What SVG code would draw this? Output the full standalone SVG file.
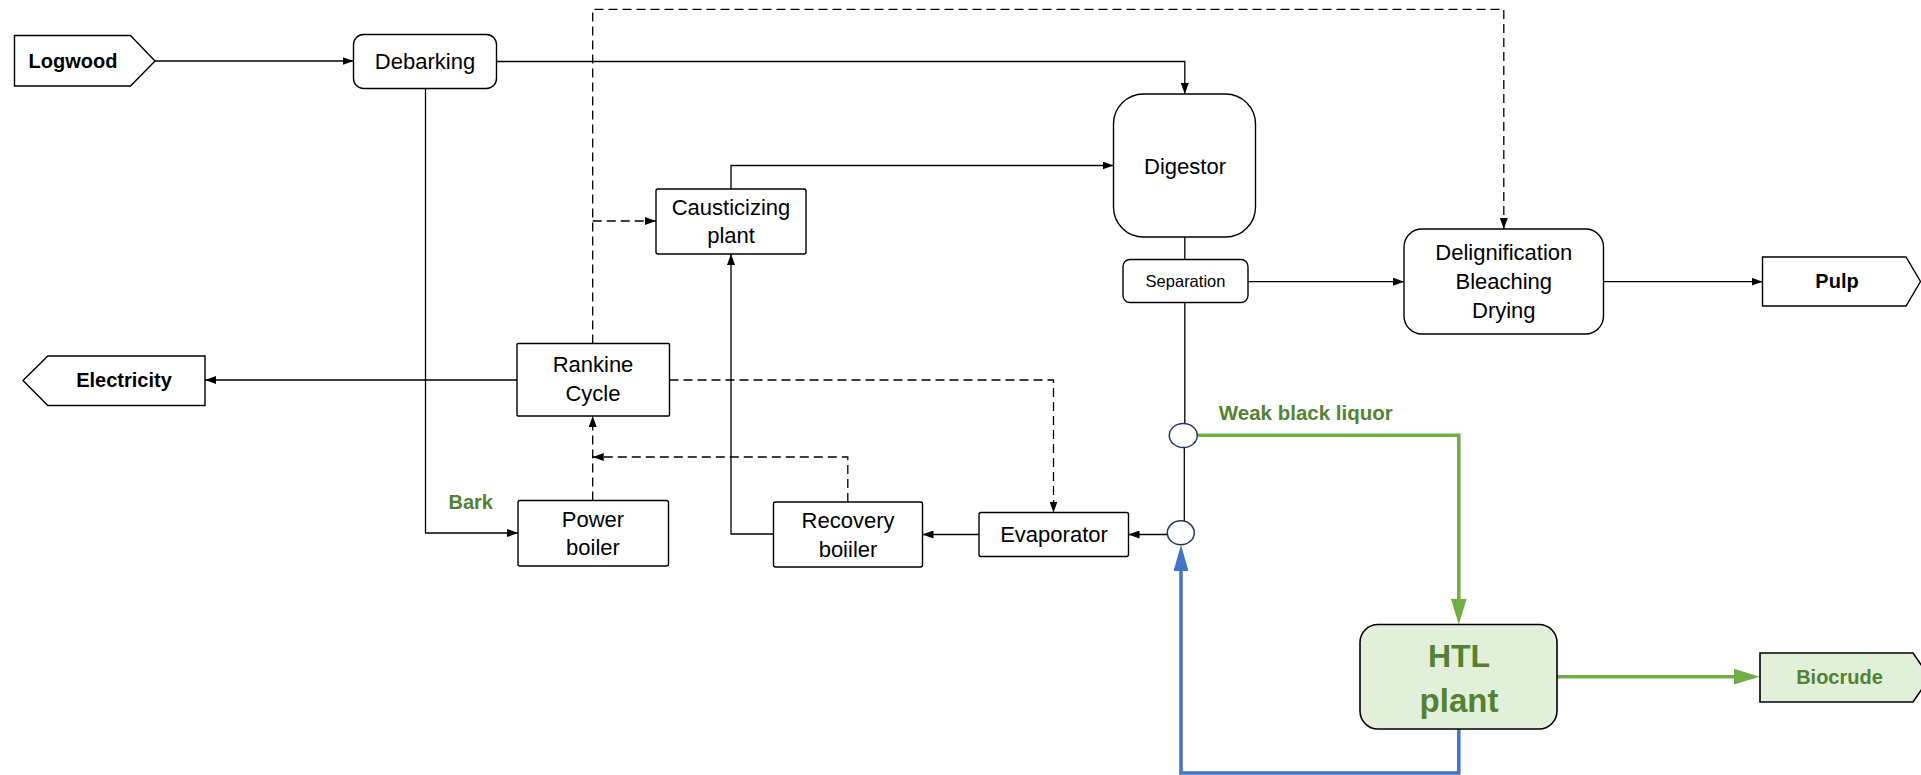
<svg xmlns="http://www.w3.org/2000/svg" width="1921" height="775" viewBox="0 0 1921 775">
<style>
.box{fill:#fff;stroke:#000;stroke-width:1.4}
.gbox{fill:#e2f0d9;stroke:#000;stroke-width:1.6}
.t{font-family:"Liberation Sans",Arial,sans-serif;font-size:22px;fill:#000;text-anchor:middle}
.tb{font-family:"Liberation Sans",Arial,sans-serif;font-size:20px;font-weight:bold;fill:#000;text-anchor:middle}
.tg{font-family:"Liberation Sans",Arial,sans-serif;font-weight:bold;fill:#548235}
.c{fill:none;stroke:#000;stroke-width:1.3}
.d{fill:none;stroke:#000;stroke-width:1.3;stroke-dasharray:9 5}
.g{fill:none;stroke:#70ad47;stroke-width:3.5}
.b{fill:none;stroke:#4472c4;stroke-width:3.5}
.circ{fill:#fff;stroke:#1f3864;stroke-width:1.5}
</style>
<defs>
<marker id="ah" markerWidth="11" markerHeight="8" refX="11" refY="4" orient="auto" markerUnits="userSpaceOnUse"><path d="M0,0 L11,4 L0,8 z" fill="#000"/></marker>
<marker id="ag" markerWidth="26" markerHeight="16" refX="6" refY="8" orient="auto" markerUnits="userSpaceOnUse"><path d="M0,0 L26,8 L0,16 z" fill="#70ad47"/></marker>
<marker id="ab" markerWidth="26" markerHeight="15" refX="6" refY="7.5" orient="auto" markerUnits="userSpaceOnUse"><path d="M0,0 L26,7.5 L0,15 z" fill="#4472c4"/></marker>
</defs>

<g id="connectors">
<path class="c" d="M155,61 H353.5" marker-end="url(#ah)"/>
<path class="c" d="M496.5,61.5 H1184.8 V94" marker-end="url(#ah)"/>
<path class="c" d="M425.5,88.5 V533 H518" marker-end="url(#ah)"/>
<path class="c" d="M731,189 V165.5 H1113.5" marker-end="url(#ah)"/>
<path class="c" d="M773.5,534 H731 V254" marker-end="url(#ah)"/>
<path class="c" d="M979,534.5 H922.5" marker-end="url(#ah)"/>
<path class="c" d="M1167.3,534.5 H1128.5" marker-end="url(#ah)"/>
<path class="c" d="M1184.8,237 V259.5"/>
<path class="c" d="M1184.8,302.5 V423.5"/>
<path class="c" d="M1184.3,447.5 V521"/>
<path class="c" d="M1248,281.7 H1404" marker-end="url(#ah)"/>
<path class="c" d="M1603.5,281.7 H1762.5" marker-end="url(#ah)"/>
<path class="c" d="M517,380 H205" marker-end="url(#ah)"/>
<path class="d" d="M592.7,343.5 V9.3 H1503.8 V229" marker-end="url(#ah)"/>
<path class="d" d="M592.7,221 H656" marker-end="url(#ah)"/>
<path class="d" d="M669.5,380 H1053.5 V512.5" marker-end="url(#ah)"/>
<path class="d" d="M592.7,500.5 V416" marker-end="url(#ah)"/>
<path class="d" d="M847.8,502 V457 H592.7" marker-end="url(#ah)"/>
<path class="g" d="M1197.3,435.3 H1458.8 V604.5" marker-end="url(#ag)"/>
<path class="g" d="M1557,676.7 H1739.7" marker-end="url(#ag)"/>
<path class="b" d="M1458.8,729 V773 H1181 V565" marker-end="url(#ab)"/>
</g>

<g id="logwood">
<polygon class="box" points="14.5,35.5 130.5,35.5 155,61 130.5,86 14.5,86"/>
<text class="tb" x="73" y="68">Logwood</text>
</g>
<g id="debarking">
<rect class="box" x="353.5" y="34.5" width="143" height="54" rx="10"/>
<text class="t" x="425" y="69">Debarking</text>
</g>
<g id="digestor">
<rect class="box" x="1113.5" y="94" width="142" height="143" rx="30"/>
<text class="t" x="1185" y="174">Digestor</text>
</g>
<g id="separation">
<rect class="box" x="1123" y="259.5" width="125" height="43" rx="7"/>
<text class="t" x="1185.5" y="287" style="font-size:16.5px">Separation</text>
</g>
<g id="causticizing">
<rect class="box" x="656" y="189" width="150" height="65" rx="2"/>
<text class="t" x="731" y="215">Causticizing</text>
<text class="t" x="731" y="243">plant</text>
</g>
<g id="delignification">
<rect class="box" x="1404" y="229" width="199.5" height="105" rx="18"/>
<text class="t" x="1503.8" y="260">Delignification</text>
<text class="t" x="1503.8" y="289">Bleaching</text>
<text class="t" x="1503.8" y="318">Drying</text>
</g>
<g id="pulp">
<polygon class="box" points="1762.5,257 1906,257 1920.5,281.5 1906,306 1762.5,306"/>
<text class="tb" x="1837" y="288">Pulp</text>
</g>
<g id="electricity">
<polygon class="box" points="205,356 47.8,356 23,380.5 47.8,405.5 205,405.5"/>
<text class="tb" x="124" y="387">Electricity</text>
</g>
<g id="rankine">
<rect class="box" x="517" y="343.5" width="152.5" height="72.5" rx="1"/>
<text class="t" x="593" y="372">Rankine</text>
<text class="t" x="593" y="401">Cycle</text>
</g>
<g id="power-boiler">
<rect class="box" x="518" y="500.5" width="150.5" height="65.5" rx="2"/>
<text class="t" x="593" y="527">Power</text>
<text class="t" x="593" y="555">boiler</text>
</g>
<g id="recovery-boiler">
<rect class="box" x="773.5" y="502" width="149" height="65" rx="2"/>
<text class="t" x="848" y="528">Recovery</text>
<text class="t" x="848" y="557">boiiler</text>
</g>
<g id="evaporator">
<rect class="box" x="979" y="512.5" width="149.5" height="44" rx="2"/>
<text class="t" x="1054" y="542">Evaporator</text>
</g>
<g id="junction-1">
<ellipse class="circ" cx="1183.3" cy="435.5" rx="14" ry="12"/>
</g>
<g id="junction-2">
<ellipse class="circ" cx="1180.8" cy="532.8" rx="13.5" ry="12"/>
</g>
<g id="htl-plant">
<rect class="gbox" x="1360" y="624.5" width="197" height="104.5" rx="18"/>
<text class="tg" x="1459" y="667" text-anchor="middle" style="font-size:32px">HTL</text>
<text class="tg" x="1459" y="712" text-anchor="middle" style="font-size:33px">plant</text>
</g>
<g id="biocrude">
<polygon class="gbox" points="1760,653 1913,653 1930,677.5 1913,702 1760,702"/>
<text class="tg" x="1839.5" y="684" text-anchor="middle" style="font-size:20px">Biocrude</text>
</g>
<g id="labels">
<text class="tg" x="448.5" y="509" style="font-size:20px">Bark</text>
<text class="tg" x="1218.8" y="420" style="font-size:20.5px">Weak black liquor</text>
</g>
</svg>
